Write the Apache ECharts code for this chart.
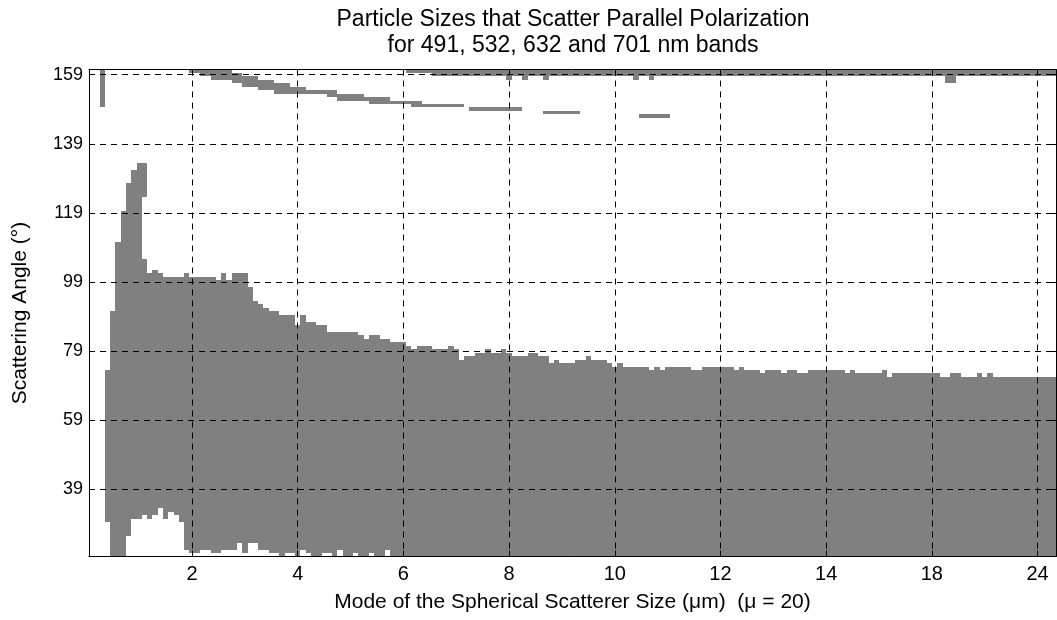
<!DOCTYPE html>
<html><head><meta charset="utf-8">
<script src="https://cdn.jsdelivr.net/npm/echarts@6/dist/echarts.min.js"></script>
<style>html,body{margin:0;padding:0;background:#fff}#c{width:1057px;height:620px}</style>
</head><body><div id="c"></div>
<script>
// ---- data (x: column index of the size grid, y: scattering angle in degrees, cells are 1 degree) ----
const titleLines = ['Particle Sizes that Scatter Parallel Polarization', 'for 491, 532, 632 and 701 nm bands'];
const xAxisTitle = 'Mode of the Spherical Scatterer Size (\u03bcm)  (\u03bc = 20)';
const yAxisTitle = 'Scattering Angle (\u00b0)';
const columnCount = 183;
const xTickColumns = [19.5, 39.5, 59.5, 79.5, 99.5, 119.5, 139.5, 159.5, 179.5];
const xTickLabels = ['2', '4', '6', '8', '10', '12', '14', '18', '24'];
const yTickValues = [39, 59, 79, 99, 119, 139, 159];
const angleMin = 20, angleMax = 160;

// highest filled angle of the main region, per column
const mainTop = [
  null,null,null,73,90,110,119,127,131,133,
  105,101,102,101,100,100,100,100,101,100,
  100,100,100,100,99,101,99,101,101,101,
  97,93,92,91,90,90,89,89,89,86,
  89,87,87,86,86,84,84,84,84,84,
  84,83,82,83,83,82,82,81,81,81,
  80,79,80,80,80,79,79,79,80,79,
  76,77,77,78,78,79,78,78,79,78,
  77,77,77,78,78,77,77,75,76,75,
  75,75,76,76,77,76,76,76,75,74,
  75,74,74,74,74,74,73,74,73,74,
  74,74,74,74,73,73,74,74,74,74,
  74,74,73,74,73,73,73,72,73,73,
  73,72,73,73,72,72,73,73,73,73,
  73,73,73,72,73,72,72,72,72,72,
  73,71,72,72,72,72,72,72,72,72,
  72,71,71,72,72,71,71,71,72,71,
  72,71,71,71,71,71,71,71,71,71,
  71,71,71
];
// lowest filled angle of the main region, per column
const mainBottom = [
  null,null,null,30,20,20,20,26,31,31,
  32,31,32,34,31,33,32,30,22,21,
  21,22,22,21,21,22,22,22,24,21,
  24,24,22,22,21,21,20,21,21,20,
  22,21,20,20,21,21,20,22,20,20,
  21,20,20,21,20,20,22,20,20,20,
  20,20,20,20,20,20,20,20,20,20,
  20,20,20,20,20,20,20,20,20,20,
  20,20,20,20,20,20,20,20,20,20,
  20,20,20,20,20,20,20,20,20,20,
  20,20,20,20,20,20,20,20,20,20,
  20,20,20,20,20,20,20,20,20,20,
  20,20,20,20,20,20,20,20,20,20,
  20,20,20,20,20,20,20,20,20,20,
  20,20,20,20,20,20,20,20,20,20,
  20,20,20,20,20,20,20,20,20,20,
  20,20,20,20,20,20,20,20,20,20,
  20,20,20,20,20,20,20,20,20,20,
  20,20,20
];
// isolated filled runs: [first column, last column, lowest angle, highest angle]
const upperBand = [
  [19,20,160,160],[21,22,159,160],[23,26,158,160],[27,28,157,159],[29,31,156,158],
  [32,34,155,157],[35,37,154,156],[38,40,154,155],[41,44,154,154],[45,46,153,154],
  [47,51,152,153],[52,52,152,152],[53,56,151,152],[57,60,151,151],[61,62,150,151],
  [63,70,150,150],[72,81,149,149],[86,92,148,148],[104,109,147,147]
];
const rimBand = [
  [60,64,160,160],[65,78,159,160],[79,79,158,160],[80,81,159,160],[82,82,158,160],
  [83,85,159,160],[86,86,158,160],[87,102,159,160],[103,103,158,160],[104,105,159,160],
  [106,106,158,160],[107,161,159,160],[162,163,157,160],[164,182,159,160]
];
const otherPieces = [[2,2,150,160],[10,10,124,133]];

// ---- build ----
const cells = [];
for (let c = 0; c < columnCount; c++) {
  if (mainTop[c] != null) cells.push([c, mainBottom[c], mainTop[c], c]);
}
[upperBand, rimBand, otherPieces].forEach(list => list.forEach(r => cells.push([r[0], r[2], r[3], r[1]])));

const FONT = 'Liberation Sans, Arial, Helvetica, sans-serif';
const chart = echarts.init(document.getElementById('c'), null, {renderer: 'canvas'});
const axisCommon = {
  axisLine: {show: true, onZero: false, lineStyle: {color: '#000', width: 1}},
  axisTick: {show: true, inside: true, length: 6, lineStyle: {color: '#000'}},
  axisLabel: {show: false},
  splitLine: {show: false},
  z: 10
};
chart.setOption({
  animation: false,
  backgroundColor: '#fff',
  graphic: [
    {type: 'text', x: 573, y: 20, style: {text: titleLines[0], font: '23px ' + FONT, fill: '#000', align: 'center', verticalAlign: 'middle'}},
    {type: 'text', x: 573, y: 46, style: {text: titleLines[1], font: '23px ' + FONT, fill: '#000', align: 'center', verticalAlign: 'middle'}}
  ],
  grid: {left: 89, right: 1, top: 69.5, bottom: 63.5, containLabel: false},
  xAxis: [
    Object.assign({}, axisCommon, {
      type: 'value', min: 0, max: columnCount, position: 'bottom',
      axisTick: {show: true, inside: true, length: 6, customValues: xTickColumns, lineStyle: {color: '#000'}},
      axisLabel: {show: true, customValues: xTickColumns, color: '#000', fontSize: 20, fontFamily: FONT, margin: 8,
        formatter: v => { const i = xTickColumns.indexOf(v); return i >= 0 ? xTickLabels[i] : ''; }},
      splitLine: {show: true, lineStyle: {color: '#000', width: 1, type: [6, 5]}},
      name: xAxisTitle, nameLocation: 'middle', nameGap: 35,
      nameTextStyle: {color: '#000', fontSize: 21, fontFamily: FONT}
    }),
    Object.assign({}, axisCommon, {
      type: 'value', min: 0, max: columnCount, position: 'top',
      axisTick: {show: true, inside: true, length: 6, customValues: xTickColumns, lineStyle: {color: '#000'}}
    })
  ],
  yAxis: [
    Object.assign({}, axisCommon, {
      type: 'value', min: angleMin - 0.5, max: angleMax + 0.5, position: 'left',
      axisTick: {show: true, inside: true, length: 6, customValues: yTickValues, lineStyle: {color: '#000'}},
      axisLabel: {show: true, customValues: yTickValues, color: '#000', fontSize: 18, fontFamily: FONT, margin: 6},
      splitLine: {show: true, lineStyle: {color: '#000', width: 1, type: [6, 5]}},
      name: yAxisTitle, nameLocation: 'middle', nameGap: 58,
      nameTextStyle: {color: '#000', fontSize: 21, fontFamily: FONT}
    }),
    Object.assign({}, axisCommon, {
      type: 'value', min: angleMin - 0.5, max: angleMax + 0.5, position: 'right',
      axisTick: {show: true, inside: true, length: 6, customValues: yTickValues, lineStyle: {color: '#000'}}
    })
  ],
  series: [{
    type: 'custom',
    xAxisIndex: 0, yAxisIndex: 0,
    data: cells,
    z: 2,
    renderItem: function (params, api) {
      const p1 = api.coord([api.value(0), api.value(2) + 0.5]);
      const p2 = api.coord([api.value(3) + 1, api.value(1) - 0.5]);
      const x1 = Math.round(p1[0]), y1 = Math.round(p1[1]);
      const x2 = Math.round(p2[0]), y2 = Math.round(p2[1]);
      return {type: 'rect', shape: {x: x1, y: y1, width: x2 - x1, height: y2 - y1},
        style: {fill: '#808080'}};
    }
  }]
});
</script></body></html>
